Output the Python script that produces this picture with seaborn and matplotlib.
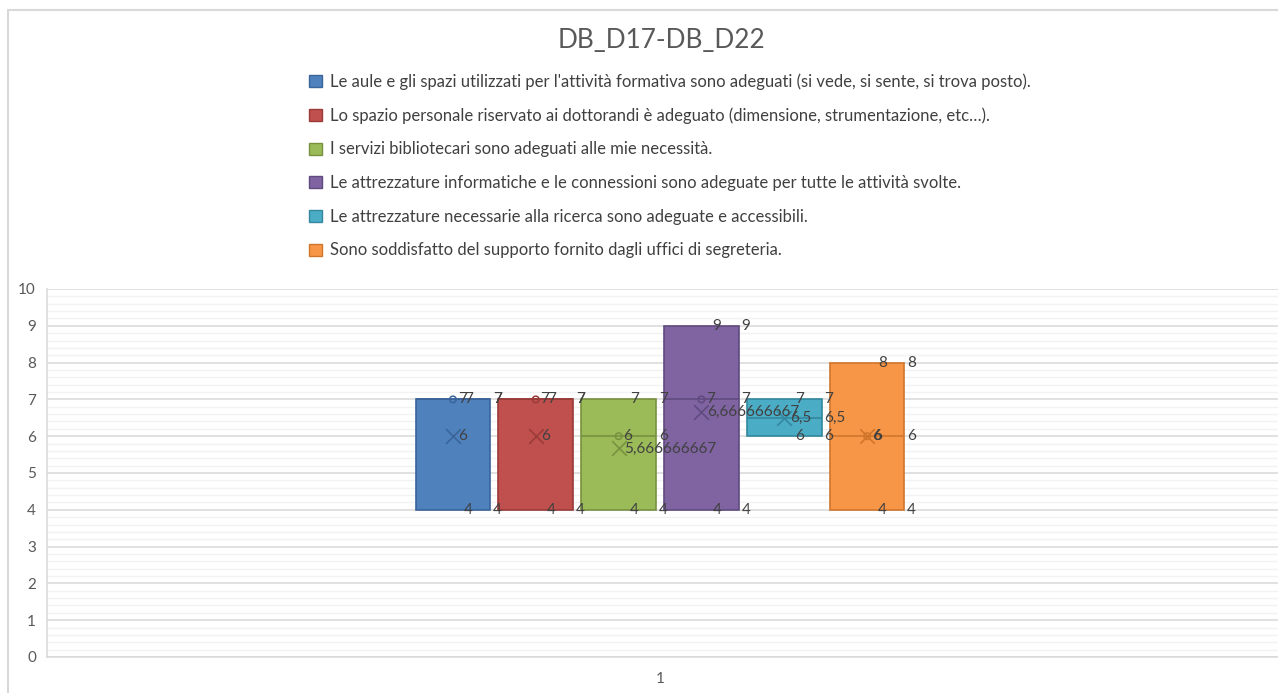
import numpy as np
import seaborn as sns
import matplotlib.pyplot as plt
from matplotlib.patches import Patch, Rectangle

# Dati del grafico
titolo = "DB_D17-DB_D22"
domande = [
    "Le aule e gli spazi utilizzati per l'attività formativa sono adeguati (si vede, si sente, si trova posto).",
    "Lo spazio personale riservato ai dottorandi è adeguato (dimensione, strumentazione, etc…).",
    "I servizi bibliotecari sono adeguati alle mie necessità.",
    "Le attrezzature informatiche e le connessioni sono adeguate per tutte le attività svolte.",
    "Le attrezzature necessarie alla ricerca sono adeguate e accessibili.",
    "Sono soddisfatto del supporto fornito dagli uffici di segreteria.",
]
aule = [4, 7, 7]
spazio = [4, 7, 7]
biblioteca = [4, 6, 7]
informatica = [4, 7, 9]
ricerca = [6, 7]
segreteria = [4, 6, 8]
risposte = [aule, spazio, biblioteca, informatica, ricerca, segreteria]
categoria = "1"

colori = ["#4F81BD", "#C0504D", "#9BBB59", "#8064A2", "#4BACC6", "#F79646"]
bordi = ["#3A649A", "#9A3B38", "#77913F", "#5F4A7E", "#33879E", "#D0762C"]
testo = "#404040"

sns.set_theme(style="white")
plt.rcParams["font.family"] = ["Lato", "DejaVu Sans"]


def fmt(v):
    s = f"{v:.9f}".rstrip("0").rstrip(".")
    return s.replace(".", ",")


fig = plt.figure(figsize=(12.78, 6.93), dpi=100)
ax = fig.add_axes([47 / 1278, 36 / 693, 1 - 47 / 1278, 368 / 693])

larghezza = 0.9
pos = np.arange(len(risposte)) - (len(risposte) - 1) / 2

stats = []
for vals in risposte:
    v = np.sort(np.array(vals, dtype=float))
    q1, q3 = np.percentile(v, [25, 75], method="weibull")
    stats.append(dict(med=np.median(v), q1=q1, q3=q3, whislo=v.min(),
                      whishi=v.max(), mean=v.mean(), fliers=[]))

art = ax.bxp(stats, positions=pos, widths=larghezza, patch_artist=True,
             showcaps=False, showfliers=False, manage_ticks=False)
for i, box in enumerate(art["boxes"]):
    box.set_facecolor(colori[i])
    box.set_edgecolor(bordi[i])
    box.set_linewidth(1.2)
    box.set_zorder(3)
    art["medians"][i].set_color(bordi[i])
    art["medians"][i].set_linewidth(1.2)
    art["medians"][i].set_zorder(4)
for w in art["whiskers"]:
    w.set_visible(False)

# medie e punti interni
for i, (vals, st) in enumerate(zip(risposte, stats)):
    x = pos[i]
    sns.scatterplot(x=[x], y=[st["mean"]], marker="x", s=110, color=bordi[i],
                    linewidth=1.2, ax=ax, zorder=5, legend=False)
    interni = np.sort(vals)[1:-1]
    if len(interni):
        sns.scatterplot(x=[x] * len(interni), y=interni, marker="o", s=22,
                        facecolor="none", edgecolor=bordi[i], linewidth=1.1,
                        ax=ax, zorder=5, legend=False)

    kw = dict(textcoords="offset points", va="center", ha="left",
              fontsize=11, color=testo, zorder=6)
    # etichette min/max al centro
    for v in (st["whislo"], st["whishi"]):
        ax.annotate(fmt(v), (x, v), xytext=(8, 0), **kw)
    # quartili e mediana sul bordo destro
    for v in (st["q1"], st["q3"], st["med"]):
        ax.annotate(fmt(v), (x + larghezza / 2, v), xytext=(2, 0), **kw)
    for v in interni:
        ax.annotate(fmt(v), (x, v), xytext=(3.5, 0), **kw)
    ax.annotate(fmt(st["mean"]), (x, st["mean"]), xytext=(4, 0), **kw)

ax.set_xlim(-7.40, 7.46)
ax.set_ylim(0, 10)
ax.set_yticks(range(0, 11))
ax.set_yticks(np.arange(0, 10.01, 0.2), minor=True)
ax.grid(axis="y", which="major", color="#D9D9D9", linewidth=1.1, zorder=0)
ax.grid(axis="y", which="minor", color="#F2F2F2", linewidth=1.0, zorder=0)
ax.set_axisbelow(True)
ax.set_xticks([0])
ax.set_xticklabels([categoria])
ax.tick_params(axis="both", which="both", length=0, labelsize=11,
               labelcolor="#595959")
ax.tick_params(axis="x", pad=11)
ax.tick_params(axis="y", pad=8)
for s in ("top", "right"):
    ax.spines[s].set_visible(False)
for s in ("left", "bottom"):
    ax.spines[s].set_color("#D9D9D9")
    ax.spines[s].set_linewidth(1.1)

# bordo esterno del grafico
fig.add_artist(Rectangle((8 / 1278, -0.5), 2, 0.5 + 1 - 10 / 693,
                         transform=fig.transFigure, fill=False,
                         edgecolor="#D9D9D9", linewidth=1.5))

fig.text(661 / 1278, 1 - 40 / 693, titolo, ha="center", va="center",
         fontsize=18.8, color="#595959")

handles = [Patch(facecolor=c, edgecolor=b, linewidth=1.0)
           for c, b in zip(colori, bordi)]
fig.legend(handles, domande, loc="upper left",
           bbox_to_anchor=(309 / 1278, 1 - 73 / 693), frameon=False,
           fontsize=12, labelspacing=1.06, handlelength=0.75,
           handleheight=0.75, handletextpad=0.5, borderpad=0,
           borderaxespad=0, labelcolor=testo)

fig.savefig("out.png", dpi=100)
